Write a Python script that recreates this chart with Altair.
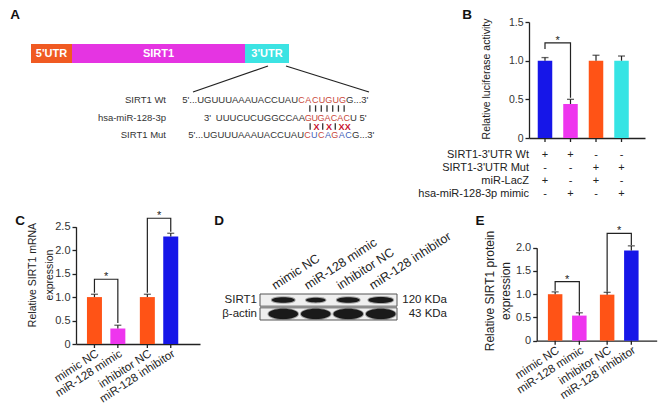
import altair as alt
import pandas as pd

OFF = 8
W, H = 650, 397
FONT = "Liberation Sans"
INK = "#222222"
ORANGE = "#FF5316"
MAGENTA = "#EE35EE"
BLUE = "#1616E8"
CYAN = "#36E4E4"
SEQ_RED = "#C9483A"
SEQ_BLUE = "#3F5FB8"
X_RED = "#C8102E"


def px(v):
    return v - OFF


ONE = pd.DataFrame({"k": [0]})

# ---------------- data ----------------
# Panel A
gene_regions = ["5'UTR", "SIRT1", "3'UTR"]
gene_lengths = [41, 173, 44]
gene_colors = ["#F05A22", "#E534E2", "#3CE3E3"]

seq_names = ["SIRT1 Wt", "hsa-miR-128-3p", "SIRT1 Mut"]
seq_prefix = ["5'...UGUUUAAAUACCUAU", "3'\u2002UUUCUCUGGCCAA", "5'...UGUUUAAAUACCUAU"]
seq_site = ["CACUGUG", "GUGACAC", "CUCAGAC"]
seq_suffix = ["G...3'", "U 5'", "G...3'"]
mut_flags = [0, 1, 0, 1, 0, 1, 1]
pair_wt = ["|"] * 7
pair_mut = ["|", "X", "|", "X", "|", "X", "X"]

# Panel B
b_names = ["Wt+LacZ", "Wt+mimic", "Mut+LacZ", "Mut+mimic"]
b_groups = ["Wt", "Wt", "Mut", "Mut"]
b_conds = ["LacZ", "mimic", "LacZ", "mimic"]
b_values = [1.00, 0.44, 1.00, 1.00]
b_errors = [0.04, 0.06, 0.07, 0.06]
b_colors = [BLUE, MAGENTA, ORANGE, CYAN]
b_ticks = [0, 0.5, 1.0, 1.5]
b_brackets = [("Wt", 1.15, 1.23, 0.52)]
b_rows = ["SIRT1-3'UTR Wt", "SIRT1-3'UTR Mut", "miR-LacZ", "hsa-miR-128-3p mimic"]
b_signs = [["+", "+", "-", "-"], ["-", "-", "+", "+"], ["+", "-", "+", "-"], ["-", "+", "-", "+"]]

# Panel C
c_names = ["mimic NC", "miR-128 mimic", "inhibitor NC", "miR-128 inhibitor"]
c_groups = ["mimic", "mimic", "inhibitor", "inhibitor"]
c_conds = ["NC", "miR", "NC", "miR"]
c_values = [1.00, 0.33, 1.00, 2.29]
c_errors = [0.06, 0.07, 0.06, 0.07]
c_colors = [ORANGE, MAGENTA, ORANGE, BLUE]
c_ticks = [0, 0.5, 1.0, 1.5, 2.0, 2.5]
c_brackets = [("mimic", 1.09, 1.38, 0.45), ("inhibitor", 1.09, 2.68, 2.39)]

# Panel D
d_lanes = ["mimic NC", "miR-128 mimic", "inhibitor NC", "miR-128 inhibitor"]
d_rows = ["SIRT1", "β-actin"]
d_sizes = ["120 KDa", "43 KDa"]
d_sirt1 = [0.85, 0.62, 0.85, 1.0]
d_actin = [1.0, 1.0, 1.0, 1.0]

# Panel E
e_names = c_names
e_groups = c_groups
e_conds = c_conds
e_values = [1.00, 0.54, 0.99, 1.94]
e_errors = [0.05, 0.06, 0.05, 0.10]
e_colors = [ORANGE, MAGENTA, ORANGE, BLUE]
e_ticks = [0, 0.5, 1.0, 1.5, 2.0]
e_brackets = [("mimic", 1.075, 1.27, 0.62), ("inhibitor", 1.055, 2.31, 2.06)]

layers = []


def txt(text, x, y, size=11, **kw):
    opts = dict(text=text, font=FONT, fontSize=size, color=kw.pop("color", INK))
    opts.update(kw)
    return alt.Chart(ONE).mark_text(**opts).encode(x=alt.value(px(x)), y=alt.value(px(y)))


def bar_panel(names, groups, conds, values, errors, colors, brackets, ticks, ymax,
              x0, x1, xpi, xpo, xal, opi, opo, yb, yt, tick_font=11, xlabels=False):
    gdom = list(dict.fromkeys(groups))
    cdom = list(dict.fromkeys(conds))
    df = pd.DataFrame({"name": names, "group": groups, "cond": conds,
                       "value": values, "err": errors})

    def X(axis=None):
        return alt.X("group:N", axis=axis,
                     scale=alt.Scale(type="band", domain=gdom, range=[px(x0), px(x1)],
                                     paddingInner=xpi, paddingOuter=xpo, align=xal))

    def XO():
        return alt.XOffset("cond:N", scale=alt.Scale(type="band", domain=cdom,
                                                     paddingInner=opi, paddingOuter=opo))

    def Y(field, axis=None):
        return alt.Y(field, axis=axis,
                     scale=alt.Scale(domain=[0, ymax], range=[px(yb), px(yt)], nice=False, zero=False))

    xaxis = alt.Axis(orient="bottom", offset=px(yb) - H, labels=False, ticks=False, title=None,
                     grid=False, domainColor=INK, domainWidth=1.3)
    yaxis = alt.Axis(orient="left", offset=-px(x0), values=ticks,
                     labelExpr="datum.value == 0 ? '0' : format(datum.value, '.1f')",
                     title=None, grid=False, domainColor=INK, domainWidth=1.3, tickColor=INK,
                     tickWidth=1.3, tickSize=4, labelFont=FONT, labelFontSize=tick_font,
                     labelColor="#333333", labelPadding=2)
    out = []
    out.append(alt.Chart(df).mark_bar().encode(
        x=X(xaxis), xOffset=XO(), y=Y("value:Q", yaxis),
        color=alt.Color("name:N", scale=alt.Scale(domain=names, range=colors), legend=None)))
    out.append(alt.Chart(df).transform_calculate(top="datum.value + datum.err")
               .mark_rule(color=INK, strokeWidth=1.2)
               .encode(x=X(), xOffset=XO(), y=Y("value:Q"), y2="top:Q"))
    out.append(alt.Chart(df).transform_calculate(top="datum.value + datum.err")
               .mark_tick(color=INK, thickness=1.3, size=7, orient="horizontal")
               .encode(x=X(), xOffset=XO(), y=Y("top:Q")))
    out.append(alt.Chart(df).mark_rule(color=INK, strokeWidth=1.3).encode(
        x=X(), xOffset=XO(), y=alt.value(px(yb)), y2=alt.value(px(yb) + 4)))
    rows = []
    for i, (g, bl, t, br) in enumerate(brackets):
        rows += [dict(b=i, o=0, group=g, cond=cdom[0], v=bl),
                 dict(b=i, o=1, group=g, cond=cdom[0], v=t),
                 dict(b=i, o=2, group=g, cond=cdom[1], v=t),
                 dict(b=i, o=3, group=g, cond=cdom[1], v=br)]
    bdf = pd.DataFrame(rows)
    out.append(alt.Chart(bdf).mark_line(color=INK, strokeWidth=1.2).encode(
        x=X(), xOffset=XO(), y=Y("v:Q"), detail="b:N", order="o:Q"))
    sdf = pd.DataFrame({"group": [b[0] for b in brackets], "t": [b[2] for b in brackets]})
    out.append(alt.Chart(sdf).mark_text(text="*", font=FONT, fontSize=11, color=INK,
                                        baseline="middle", dy=-2).encode(x=X(), y=Y("t:Q")))
    if xlabels:
        out.append(alt.Chart(df).mark_text(angle=327, align="right", baseline="top", font=FONT,
                                           fontSize=11.5, color=INK).encode(
            x=X(), xOffset=XO(), y=alt.value(px(yb) + 4), text="name:N"))
    return out, X, XO


# ---------------- Panel A ----------------
gdf = pd.DataFrame({"region": gene_regions, "length": gene_lengths, "order": [0, 1, 2]})
gscale = alt.Scale(domain=[0, sum(gene_lengths)], range=[px(31), px(289)], nice=False, zero=False)
gene_base = alt.Chart(gdf).transform_window(
    end="sum(length)", sort=[alt.SortField("order")], frame=[None, 0]
).transform_calculate(start="datum.end - datum.length", mid="datum.end - datum.length / 2")
layers.append(gene_base.mark_rect().encode(
    x=alt.X("start:Q", scale=gscale, axis=None), x2="end:Q",
    y=alt.value(px(44)), y2=alt.value(px(63)),
    color=alt.Color("region:N", scale=alt.Scale(domain=gene_regions, range=gene_colors), legend=None)))
layers.append(gene_base.mark_text(font=FONT, fontSize=11, fontWeight="bold", color="white",
                                  baseline="middle").encode(
    x=alt.X("mid:Q", scale=gscale, axis=None), y=alt.value(px(54)), text="region:N"))
for (xa, ya, xb, yb_) in [(268, 66, 193, 92), (286, 66, 369, 92)]:
    layers.append(alt.Chart(ONE).mark_rule(color=INK, strokeWidth=1.3).encode(
        x=alt.value(px(xa)), y=alt.value(px(ya)), x2=alt.value(px(xb)), y2=alt.value(px(yb_))))

row_scale = alt.Scale(type="point", domain=seq_names, range=[px(100), px(135)], padding=0)
site_ranges = [(298, 346), (305, 350), (304, 352)]
SEQ_FS = 9.5
layers.append(alt.Chart(pd.DataFrame({"row": seq_names})).mark_text(
    align="right", baseline="middle", font=FONT, fontSize=SEQ_FS, color="#333333").encode(
    x=alt.value(px(166)), y=alt.Y("row:N", scale=row_scale, axis=None), text="row:N"))
for i, name in enumerate(seq_names):
    s, e = site_ranges[i]
    rdf = pd.DataFrame({"row": [name], "pre": [seq_prefix[i]], "suf": [seq_suffix[i]]})
    layers.append(alt.Chart(rdf).mark_text(align="right", baseline="middle", font=FONT,
                                           fontSize=SEQ_FS, color="#333333").encode(
        x=alt.value(px(s)), y=alt.Y("row:N", scale=row_scale, axis=None), text="pre:N"))
    layers.append(alt.Chart(rdf).mark_text(align="left", baseline="middle", font=FONT,
                                           fontSize=SEQ_FS, color="#333333").encode(
        x=alt.value(px(e)), y=alt.Y("row:N", scale=row_scale, axis=None), text="suf:N"))
    ldf = pd.DataFrame({"row": [name] * 7, "idx": list(range(7)), "letter": list(seq_site[i]),
                        "flag": mut_flags if i == 2 else [0] * 7})
    layers.append(alt.Chart(ldf).mark_text(align="center", baseline="middle", font=FONT,
                                           fontSize=9).encode(
        x=alt.X("idx:O", scale=alt.Scale(type="band", domain=list(range(7)),
                                         range=[px(s), px(e)], padding=0), axis=None),
        y=alt.Y("row:N", scale=row_scale, axis=None), text="letter:N",
        color=alt.Color("flag:N", scale=alt.Scale(domain=[0, 1], range=[SEQ_RED, SEQ_BLUE]),
                        legend=None)))

# base-pairing marks: "|" drawn as short rules, "X" as red text
for marks, yy, rng in [(pair_wt, 108.5, (307, 347)), (pair_mut, 126.5, (307, 351))]:
    pdf = pd.DataFrame({"idx": list(range(7)), "m": marks})
    pscale = alt.Scale(type="band", domain=list(range(7)), range=[px(rng[0]), px(rng[1])], padding=0)
    layers.append(alt.Chart(pdf).transform_filter(alt.datum.m == "|").mark_rule(
        color="#333333", strokeWidth=1.3).encode(
        x=alt.X("idx:O", scale=pscale, axis=None),
        y=alt.value(px(yy - 3.2)), y2=alt.value(px(yy + 3.2))))
    layers.append(alt.Chart(pdf).transform_filter(alt.datum.m == "X").mark_text(
        align="center", baseline="middle", font=FONT, fontSize=9, fontWeight="bold",
        color=X_RED).encode(
        x=alt.X("idx:O", scale=pscale, axis=None), y=alt.value(px(yy)), text="m:N"))

# ---------------- Panel B ----------------
b_layers, bX, bXO = bar_panel(b_names, b_groups, b_conds, b_values, b_errors, b_colors, b_brackets,
                              b_ticks, 1.5, 529, 645, 0.0, 0.137, 0.232, 0.431, 0.2155, 138, 22,
                              tick_font=10.5)
layers += b_layers
tab = []
for r, signs in zip(b_rows, b_signs):
    for g, c, s in zip(b_groups, b_conds, signs):
        tab.append(dict(row=r, group=g, cond=c, sign=s))
tdf = pd.DataFrame(tab)
tscale = alt.Scale(type="point", domain=b_rows, range=[px(155), px(194)], padding=0)
layers.append(alt.Chart(pd.DataFrame({"row": b_rows})).mark_text(
    align="right", baseline="middle", font=FONT, fontSize=11, color=INK).encode(
    x=alt.value(px(529)), y=alt.Y("row:N", scale=tscale, axis=None), text="row:N"))
layers.append(alt.Chart(tdf).mark_text(align="center", baseline="middle", font=FONT,
                                       fontSize=11, color=INK).encode(
    x=bX(), xOffset=bXO(), y=alt.Y("row:N", scale=tscale, axis=None), text="sign:N"))
layers.append(txt("Relative luciferase activity", 487, 79, size=10.5, angle=270,
                  align="center", baseline="middle"))

# ---------------- Panel C ----------------
c_layers, _, _ = bar_panel(c_names, c_groups, c_conds, c_values, c_errors, c_colors, c_brackets,
                           c_ticks, 2.5, 76, 200, 0.1, 0.222, 0.27, 0.359, 0.197, 344, 226.7,
                           tick_font=11, xlabels=True)
layers += c_layers
layers.append(txt("Relative SIRT1 mRNA", 33, 275, size=10.5, angle=270, align="center", baseline="middle"))
layers.append(txt("expression", 50, 275, size=10.5, angle=270, align="center", baseline="middle"))

# ---------------- Panel D ----------------
dscale_y = alt.Scale(type="band", domain=d_rows, range=[px(294), px(320)], paddingInner=0.12, paddingOuter=0)
lane_scale = alt.Scale(type="band", domain=d_lanes, range=[px(267), px(397)], paddingInner=0, paddingOuter=0)
layers.append(alt.Chart(pd.DataFrame({"row": d_rows})).mark_rect(
    fill="#EFEFEF", stroke="#555555", strokeWidth=1).encode(
    y=alt.Y("row:N", scale=dscale_y, axis=None), x=alt.value(px(260)), x2=alt.value(px(397))))
blot = pd.DataFrame({"lane": d_lanes * 2, "row": ["SIRT1"] * 4 + ["β-actin"] * 4,
                     "level": d_sirt1 + d_actin})
for rname, shape, smax in [("SIRT1", "M-1,0 A1,0.24,0,1,0,1,0 A1,0.24,0,1,0,-1,0 Z", 620),
                           ("β-actin", "M-1,0 A1,0.34,0,1,0,1,0 A1,0.34,0,1,0,-1,0 Z", 880)]:
    layers.append(alt.Chart(blot).transform_filter(alt.datum.row == rname).mark_point(
        shape=shape, filled=True, fill="#1a1a1a", stroke="#1a1a1a", strokeWidth=2,
        strokeOpacity=0.35, opacity=1).encode(
        x=alt.X("lane:N", scale=lane_scale, axis=None),
        y=alt.Y("row:N", scale=dscale_y, axis=None),
        size=alt.Size("level:Q", scale=alt.Scale(domain=[0, 1], range=[0, smax]), legend=None)))
layers.append(alt.Chart(pd.DataFrame({"row": d_rows})).mark_text(
    align="right", baseline="middle", font=FONT, fontSize=11.5, color=INK).encode(
    x=alt.value(px(257)), y=alt.Y("row:N", scale=dscale_y, axis=None), text="row:N"))
layers.append(alt.Chart(pd.DataFrame({"row": d_rows, "kda": d_sizes})).mark_text(
    align="right", baseline="middle", font=FONT, fontSize=11.5, color=INK).encode(
    x=alt.value(px(447)), y=alt.Y("row:N", scale=dscale_y, axis=None), text="kda:N"))
layers.append(alt.Chart(pd.DataFrame({"lane": d_lanes})).mark_text(
    align="left", baseline="alphabetic", angle=327, font=FONT, fontSize=12.5, color=INK).encode(
    x=alt.X("lane:N", scale=alt.Scale(type="band", domain=d_lanes, range=[px(259), px(389)],
                                      paddingInner=0, paddingOuter=0), axis=None),
    y=alt.value(px(290)), text="lane:N"))

# ---------------- Panel E ----------------
e_layers, _, _ = bar_panel(e_names, e_groups, e_conds, e_values, e_errors, e_colors, e_brackets,
                           e_ticks, 2.0, 536.7, 656.7, 0.1, 0.204, 0.337, 0.401, 0.1675, 340.7, 247.7,
                           tick_font=11, xlabels=True)
layers += e_layers
layers.append(txt("Relative SIRT1 protein", 490, 291, size=12, angle=270, align="center", baseline="middle"))
layers.append(txt("expression", 505.5, 291, size=12, angle=270, align="center", baseline="middle"))

# ---------------- panel letters ----------------
for letter, lx, ly in [("A", 15, 18.5), ("B", 467, 18.5), ("C", 20, 225), ("D", 219, 225), ("E", 480, 225)]:
    layers.append(txt(letter, lx, ly, size=13.5, fontWeight="bold", align="center",
                      baseline="alphabetic", color="#111111"))

chart = alt.layer(*layers).resolve_scale(
    x="independent", y="independent", color="independent", size="independent",
    xOffset="independent"
).resolve_axis(x="independent", y="independent").properties(
    width=W, height=H, padding=0, autosize=alt.AutoSizeParams(type="none")
).configure_view(stroke=None)

chart.save("out.html", embed_options={"renderer": "svg", "actions": False})
